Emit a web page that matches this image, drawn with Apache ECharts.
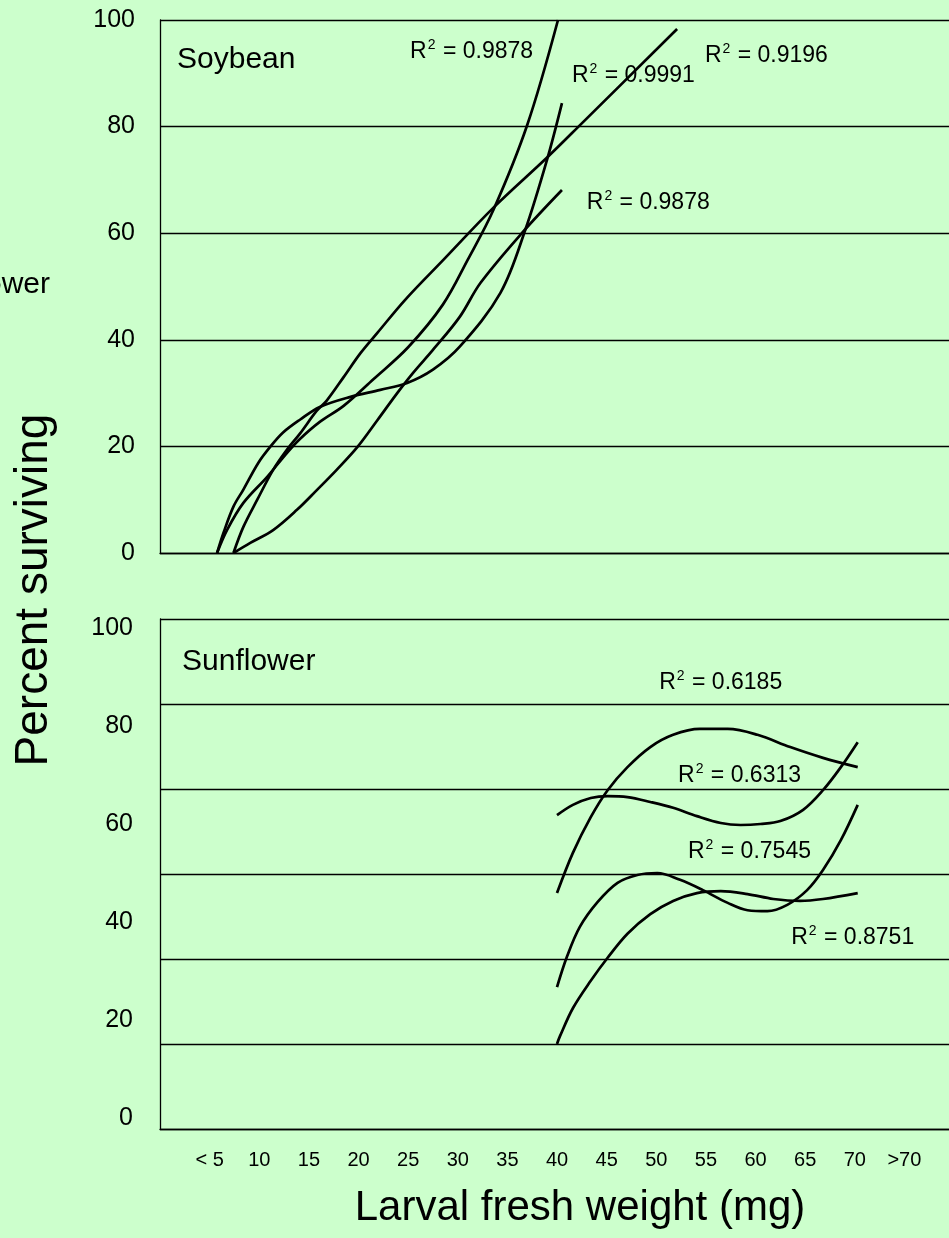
<!DOCTYPE html>
<html>
<head>
<meta charset="utf-8">
<script src="https://cdn.jsdelivr.net/npm/echarts@6/dist/echarts.min.js"></script>
<style>
html,body{margin:0;padding:0;background:#CCFFCC;}
#c{width:949px;height:1238px;}
</style>
</head>
<body>
<div id="c"></div>
<script>
// ---- tick labels ----
const xTickValues = [5,10,15,20,25,30,35,40,45,50,55,60,65,70,75];
const xTickLabels = ['< 5','10','15','20','25','30','35','40','45','50','55','60','65','70','>70'];
const yTickLabels = [0,20,40,60,80,100];

// ---- Soybean fitted curves: [larval weight (mg), percent surviving] ----
const soyPlateau = [[5.75,0],[6.4,3.8],[7.4,8.7],[8.4,11.9],[9.9,16.9],[11.1,19.9],[12.4,22.6],[14.1,25.0],[16.1,27.4],[19.2,29.3],[22.2,30.6],[24.9,31.9],[27.5,34.4],[30.2,38.7],[34.3,48.8],[36.8,60.6],[39.0,73.8],[40.5,84.4]];
const soySteep   = [[5.75,0],[6.75,4.3],[8.4,9.4],[10.8,14.3],[12.8,18.8],[14.1,21.4],[16.1,24.6],[18.5,27.6],[21.5,32.6],[25.0,38.6],[28.5,46.6],[31.0,55.0],[33.6,64.4],[37.0,80.3],[40.1,100]];
const soyLinear  = [[7.4,0],[8.4,4.9],[9.8,10.0],[11.4,15.6],[12.8,19.4],[14.1,22.4],[15.8,26.7],[16.8,28.6],[18.5,33.0],[20.2,37.5],[21.9,41.3],[24.7,47.5],[28.5,54.9],[33.6,64.8],[39.0,74.2],[42.6,80.8],[52.1,98.3]];
const soyConvex  = [[7.4,0],[9.1,1.9],[11.4,4.3],[13.8,8.1],[15.8,11.8],[17.8,15.6],[19.9,19.9],[21.9,24.9],[23.9,30.0],[25.5,33.8],[27.5,38.1],[30.2,44.3],[32.3,50.7],[36.5,60.1],[40.5,68.1]];

// ---- Sunflower fitted curves ----
const sunA = [[40.0,45.9],[41.6,54.1],[43.4,61.4],[45.1,66.9],[47.1,71.6],[49.4,75.7],[51.7,78.2],[54.4,79.4],[57.2,79.4],[60.2,78.2],[63.5,75.7],[66.8,73.5],[70.3,71.6]];
const sunB = [[40.0,61.8],[41.6,63.9],[43.4,65.3],[45.1,65.7],[47.1,65.5],[49.4,64.5],[51.7,63.3],[54.1,61.6],[56.5,60.2],[58.5,59.8],[60.5,60.0],[62.5,60.6],[64.8,62.9],[66.8,66.9],[68.6,71.6],[70.3,76.7]];
const sunC = [[40.0,26.7],[41.0,32.9],[42.3,39.0],[44.1,44.1],[46.1,48.0],[48.1,49.6],[50.1,50.0],[52.4,48.6],[54.7,46.5],[57.2,43.9],[59.2,42.4],[61.2,42.2],[63.2,43.5],[65.2,46.5],[66.8,50.6],[68.6,56.7],[70.3,63.9]];
const sunD = [[40.0,15.1],[40.3,16.7],[41.6,22.4],[43.4,28.0],[45.1,32.7],[47.1,37.6],[49.4,41.6],[51.7,44.3],[54.1,45.9],[56.5,46.3],[59.2,45.7],[61.8,44.7],[64.5,44.3],[66.8,44.7],[70.3,45.9]];

// ---- R-squared annotations: [x (mg), y, value] ----
const soyR2 = [[25.2,94.1,'0.9878'],[41.5,89.6,'0.9991'],[54.9,93.4,'0.9196'],[43.0,65.8,'0.9878']];
const sunR2 = [[50.3,88.8,'0.6185'],[52.2,69.8,'0.6313'],[53.2,54.3,'0.7545'],[63.6,36.9,'0.8751']];

const FONT = '"Liberation Sans", Arial, Helvetica, sans-serif';
const chart = echarts.init(document.getElementById('c'), null, {renderer:'canvas'});

const lineStyleAxis = {color:'#000', width:1.3};
const gridBase = {left:160, width:794, containLabel:false, outerBoundsMode:'none'};

function curve(name, data, xi, yi){
  return {name, type:'line', xAxisIndex:xi, yAxisIndex:yi, data, smooth:0.35,
    showSymbol:false, symbol:'none', silent:true,
    lineStyle:{color:'#000', width:2.7}, z:5};
}
function r2(name, data, xi, yi){
  return {name, type:'scatter', xAxisIndex:xi, yAxisIndex:yi, data, symbolSize:0, silent:true,
    itemStyle:{color:'#000', opacity:1}, z:10,
    label:{show:true, position:'right', distance:0, color:'#000', opacity:1,
      textBorderWidth:0,
      formatter: p => '{r|R}{s|2}{r| = ' + p.data[2] + '}',
      rich:{ r:{fontSize:23, fontFamily:FONT, color:'#000', lineHeight:27},
             s:{fontSize:14, fontFamily:FONT, color:'#000', lineHeight:14, verticalAlign:'top', padding:[0,1,0,1]} } } };
}

const option = {
  backgroundColor:'#CCFFCC',
  animation:false,
  grid:[
    Object.assign({top:20, height:533}, gridBase),
    Object.assign({top:619, height:510}, gridBase),
    Object.assign({top:628, height:490}, gridBase)
  ],
  xAxis:[
    {gridIndex:0, type:'value', min:0, max:80, interval:5,
      axisLine:{show:true, onZero:false, lineStyle:lineStyleAxis}, axisTick:{show:false},
      axisLabel:{show:false}, splitLine:{show:false}},
    {gridIndex:1, type:'value', min:0, max:80, interval:5,
      axisLine:{show:true, onZero:false, lineStyle:lineStyleAxis}, axisTick:{show:false},
      axisLabel:{show:true, margin:21, fontSize:20, fontFamily:FONT, color:'#000',
        showMinLabel:true, showMaxLabel:true,
        formatter: v => { const i = xTickValues.indexOf(v); return i >= 0 ? xTickLabels[i] : ''; }},
      splitLine:{show:false}},
    {gridIndex:2, type:'value', min:0, max:80, show:false}
  ],
  yAxis:[
    {gridIndex:0, type:'value', min:0, max:100, interval:20,
      axisLine:{show:true, lineStyle:lineStyleAxis}, axisTick:{show:false},
      axisLabel:{show:true, margin:25, fontSize:25, fontFamily:FONT, color:'#000',
        formatter: v => yTickLabels.indexOf(v) >= 0 ? String(v) : ''},
      splitLine:{show:true, lineStyle:lineStyleAxis}},
    {gridIndex:1, type:'value', min:0, max:120, interval:20,
      axisLine:{show:true, lineStyle:lineStyleAxis}, axisTick:{show:false},
      axisLabel:{show:false},
      splitLine:{show:true, lineStyle:lineStyleAxis}},
    {gridIndex:2, type:'value', min:0, max:100, interval:20,
      axisLine:{show:false}, axisTick:{show:false},
      axisLabel:{show:true, margin:27, fontSize:25, fontFamily:FONT, color:'#000',
        formatter: v => yTickLabels.indexOf(v) >= 0 ? String(v) : ''},
      splitLine:{show:false}}
  ],
  graphic:{elements:[
    {type:'text', x:177, y:60, silent:true,
      style:{text:'Soybean', font:'30px '+FONT, fill:'#000', align:'left', verticalAlign:'middle'}},
    {type:'text', x:182, y:662, silent:true,
      style:{text:'Sunflower', font:'30px '+FONT, fill:'#000', align:'left', verticalAlign:'middle'}},
    {type:'text', x:50, y:285, silent:true,
      style:{text:'Sunflower', font:'30px '+FONT, fill:'#000', align:'right', verticalAlign:'middle'}},
    {type:'text', x:34, y:590, rotation:Math.PI/2, silent:true,
      style:{text:'Percent surviving', font:'46px '+FONT, fill:'#000', align:'center', verticalAlign:'middle'}},
    {type:'text', x:580, y:1208, silent:true,
      style:{text:'Larval fresh weight (mg)', font:'42px '+FONT, fill:'#000', align:'center', verticalAlign:'middle'}}
  ]},
  series:[
    curve('Soybean plateau', soyPlateau, 0, 0),
    curve('Soybean steep', soySteep, 0, 0),
    curve('Soybean linear', soyLinear, 0, 0),
    curve('Soybean convex', soyConvex, 0, 0),
    curve('Sunflower A', sunA, 2, 2),
    curve('Sunflower B', sunB, 2, 2),
    curve('Sunflower C', sunC, 2, 2),
    curve('Sunflower D', sunD, 2, 2),
    r2('Soybean R2', soyR2, 0, 0),
    r2('Sunflower R2', sunR2, 2, 2)
  ]
};
chart.setOption(option);
</script>
</body>
</html>
